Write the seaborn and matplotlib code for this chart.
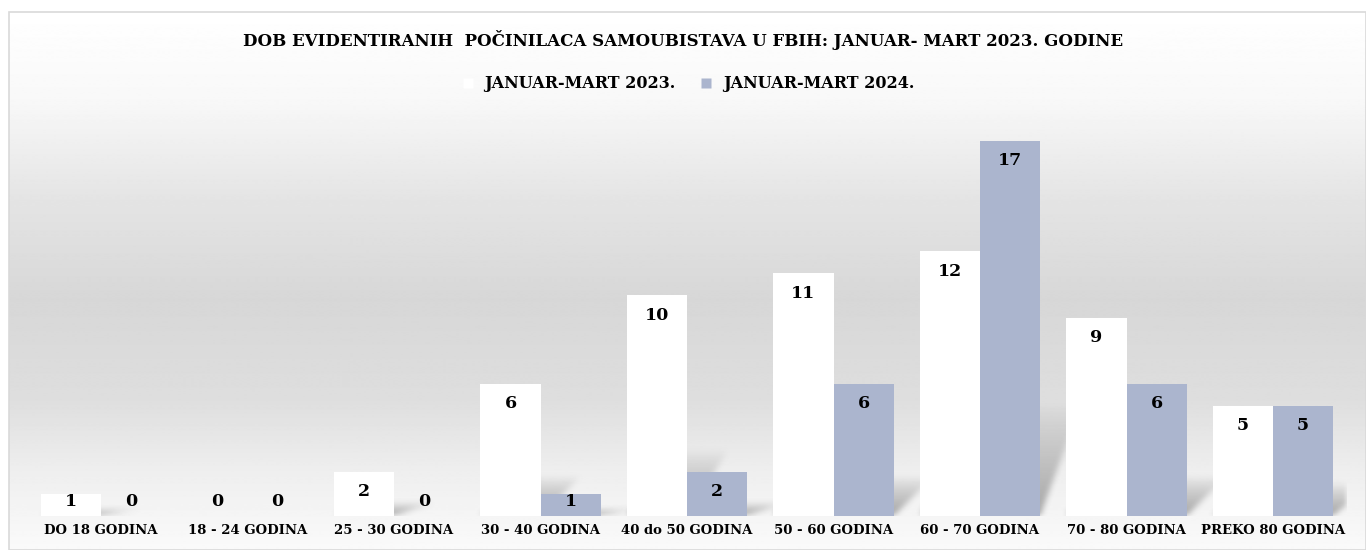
import numpy as np
import pandas as pd
import matplotlib
matplotlib.use("Agg")
import matplotlib.pyplot as plt
from matplotlib.lines import Line2D
from matplotlib.patches import Rectangle
import seaborn as sns

# data
categories = ["DO 18 GODINA", "18 - 24 GODINA", "25 - 30 GODINA", "30 - 40 GODINA",
              "40 do 50 GODINA", "50 - 60 GODINA", "60 - 70 GODINA", "70 - 80 GODINA",
              "PREKO 80 GODINA"]
series_names = ["JANUAR-MART 2023.", "JANUAR-MART 2024."]
values_2023 = [1, 0, 2, 6, 10, 11, 12, 9, 5]
values_2024 = [0, 0, 0, 1, 2, 6, 17, 6, 5]
title = "DOB EVIDENTIRANIH  POČINILACA SAMOUBISTAVA U FBIH: JANUAR- MART 2023. GODINE"

colors = {series_names[0]: "#FFFFFF", series_names[1]: "#ABB5CE"}

df = pd.DataFrame({
    "kategorija": categories * 2,
    "period": [series_names[0]] * len(categories) + [series_names[1]] * len(categories),
    "broj": values_2023 + values_2024,
})

sns.set_theme(style="white")
plt.rcParams["font.family"] = ["DejaVu Serif"]
plt.rcParams["font.weight"] = "bold"
plt.rcParams["text.color"] = "black"
plt.rcParams["xtick.color"] = "black"

W, H = 1366, 550
fig = plt.figure(figsize=(W / 100, H / 100), dpi=100)
fig.patch.set_facecolor("white")

# background panel with vertical grey gradient
bg = fig.add_axes([9 / W, 0, 1 - 9 / W, 1 - 12 / H], zorder=-10)
py = np.linspace(12, 550, 540)
gray = np.interp(py, [12, 100, 200, 300, 400, 470, 550],
                 [255, 248, 228, 215, 222, 238, 250]) / 255
grad = np.repeat(gray[:, None], 2, axis=1)
bg.imshow(grad, cmap="gray", vmin=0, vmax=1, aspect="auto", interpolation="bilinear")
bg.set_axis_off()
fig.add_artist(Rectangle((9 / W, 0), 1 - 9 / W, 1 - 12 / H, transform=fig.transFigure,
                         fill=False, edgecolor="#D9D9D9", linewidth=1.2))

ax = fig.add_axes([27.75 / W, 1 - 516 / H, (1346.25 - 27.75) / W, (516 - 119) / H])
ax.set_facecolor("none")

sns.barplot(data=df, x="kategorija", y="broj", hue="period", palette=colors,
            width=0.82, saturation=1, edgecolor="none", linewidth=0,
            legend=False, ax=ax, zorder=2)

# soft perspective shadows behind the bars
xs = np.linspace(-0.5, 8.5, 1320)
ys = np.linspace(0, 18, 400)
XX, YY = np.meshgrid(xs, ys)
alpha = np.zeros_like(XX)
for p in ax.patches:
    h = p.get_height()
    if h <= 0:
        continue
    x0, w = p.get_x(), p.get_width()
    hs = 0.3 * h
    shift = 0.28 * np.clip(YY / hs, 0, 1)
    inside = (YY <= hs) & (XX >= x0 + shift) & (XX <= x0 + w + shift)
    a = np.where(inside, 0.6 * (1 - YY / hs) ** 0.8, 0)
    alpha = np.maximum(alpha, a)
k = np.ones(7) / 7
for _ in range(2):
    alpha = np.apply_along_axis(lambda r: np.convolve(r, k, mode="same"), 1, alpha)
    alpha = np.apply_along_axis(lambda c: np.convolve(c, k, mode="same"), 0, alpha)
shadow = np.zeros(alpha.shape + (4,))
shadow[..., :3] = 0.45
shadow[..., 3] = alpha
ax.imshow(shadow, origin="lower", extent=(-0.5, 8.5, 0, 18), aspect="auto", zorder=1)

# value labels inside the bar ends
for p in ax.patches:
    h = p.get_height()
    cx = p.get_x() + p.get_width() / 2
    ax.text(cx, max(h - 0.9, 0.68), f"{h:.0f}", ha="center", va="center",
            fontsize=12.5, fontweight="bold", color="black", zorder=3)

ax.set_xlim(-0.5, 8.5)
ax.set_ylim(0, 18)
ax.set_xlabel("")
ax.set_ylabel("")
ax.set_yticks([])
ax.tick_params(axis="x", length=0, pad=6, labelsize=9.5, labelcolor="black")
for lbl in ax.get_xticklabels():
    lbl.set_fontweight("bold")
sns.despine(ax=ax, left=True, bottom=True)

fig.text(0.5, 1 - 40 / H, title, ha="center", va="center", fontsize=12,
         fontweight="bold", color="black")

handles = [Line2D([], [], marker="s", linestyle="none", markersize=7,
                  markerfacecolor=colors[s], markeredgecolor="none") for s in series_names]
fig.legend(handles, series_names, loc="center", bbox_to_anchor=(0.5, 1 - 84 / H),
           ncol=2, frameon=False, handletextpad=0.05, columnspacing=0.9,
           prop={"weight": "bold", "size": 11.5}, labelcolor="black")

fig.savefig("out.png", dpi=100)
